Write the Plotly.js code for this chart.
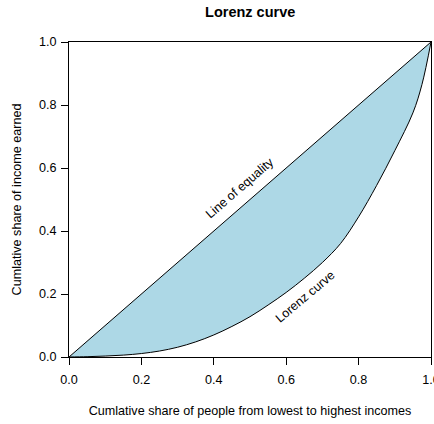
<!DOCTYPE html>
<html>
<head>
<meta charset="utf-8">
<script src="https://cdn.plot.ly/plotly-3.0.1.min.js"></script>
<style>
  html, body { margin: 0; padding: 0; background: #fff; }
  #chart { width: 434px; height: 424px; }
</style>
</head>
<body>
<div id="chart"></div>
<script>
// Cumulative population share (poorest first) and the income share they earn
const populationShare = [0, 0.05, 0.1, 0.15, 0.2, 0.25, 0.3, 0.35, 0.4, 0.45, 0.5, 0.55, 0.6, 0.65, 0.7, 0.75, 0.8, 0.85, 0.9, 0.95, 0.975, 1.0];
const incomeShare     = [0, 0.001, 0.003, 0.006, 0.011, 0.019, 0.031, 0.048, 0.07, 0.097, 0.128, 0.165, 0.205, 0.25, 0.3, 0.36, 0.445, 0.545, 0.655, 0.775, 0.865, 1.0];

// Line of perfect equality
const equalityX = [0, 1];
const equalityY = [0, 1];

const tickVals = [0, 0.2, 0.4, 0.6, 0.8, 1.0];
const tickText = ['0.0', '0.2', '0.4', '0.6', '0.8', '1.0'];

const font = 'Liberation Sans, Arial, Helvetica, sans-serif';
const baseSize = 12.6;

const traces = [
  {
    x: equalityX, y: equalityY,
    mode: 'lines', type: 'scatter',
    line: { color: '#000', width: 1 },
    hoverinfo: 'skip'
  },
  {
    x: populationShare, y: incomeShare,
    mode: 'lines', type: 'scatter',
    fill: 'tonexty', fillcolor: '#ADD8E6',
    line: { color: '#000', width: 1, shape: 'spline', smoothing: 1 },
    hoverinfo: 'skip'
  }
];

const axisCommon = {
  range: [0, 1],
  tickvals: tickVals,
  ticktext: tickText,
  ticks: 'outside',
  ticklen: 7,
  tickwidth: 1,
  tickcolor: '#000',
  showline: true,
  mirror: true,
  linecolor: '#000',
  linewidth: 1,
  showgrid: false,
  zeroline: false,
  ticklabeloverflow: 'allow',
  tickfont: { family: font, size: baseSize, color: '#000' }
};

const layout = {
  width: 434, height: 424,
  margin: { l: 69, r: 3, t: 42, b: 67 },
  paper_bgcolor: '#fff', plot_bgcolor: '#fff',
  showlegend: false,
  title: {
    text: '<b>Lorenz curve</b>',
    font: { family: font, size: 14.5, color: '#000' },
    x: 0.5765, xanchor: 'center', y: 0.972, yanchor: 'middle'
  },
  xaxis: Object.assign({}, axisCommon, {
    ticklabelstandoff: 4,
    title: {
      text: 'Cumlative share of people from lowest to highest incomes',
      font: { family: font, size: baseSize, color: '#000' },
      standoff: 20
    }
  }),
  yaxis: Object.assign({}, axisCommon, {
    ticklabelstandoff: 2,
    title: {
      text: 'Cumlative share of income earned',
      font: { family: font, size: baseSize, color: '#000' },
      standoff: 14
    }
  }),
  annotations: [
    {
      x: 0.472, y: 0.537, xref: 'x', yref: 'y',
      text: 'Line of equality', showarrow: false,
      textangle: -41,
      font: { family: font, size: baseSize, color: '#000' }
    },
    {
      x: 0.652, y: 0.19, xref: 'x', yref: 'y',
      text: 'Lorenz curve', showarrow: false,
      textangle: -40,
      font: { family: font, size: baseSize, color: '#000' }
    }
  ]
};

Plotly.newPlot('chart', traces, layout, { staticPlot: true, displayModeBar: false });
</script>
</body>
</html>
